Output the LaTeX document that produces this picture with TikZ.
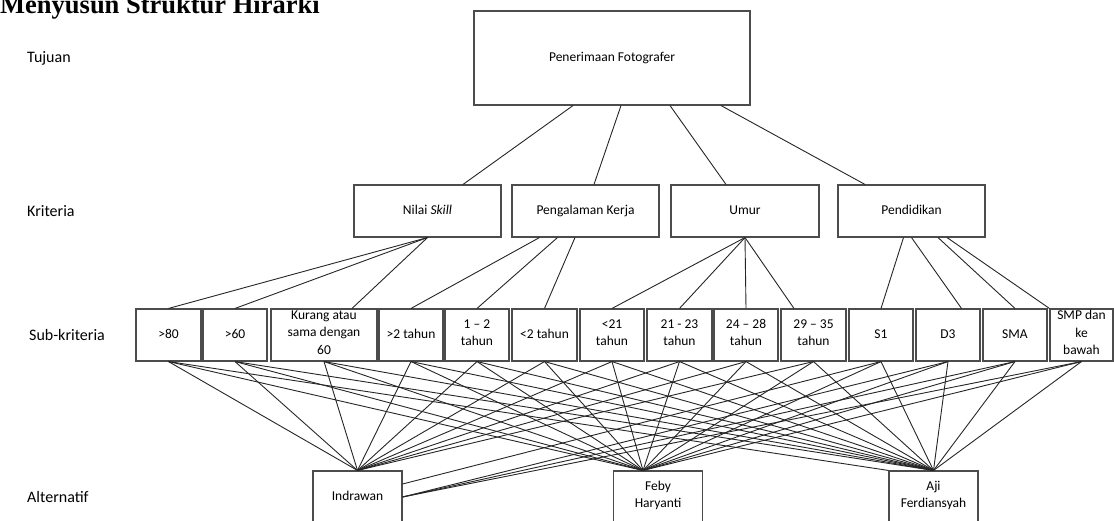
\documentclass[tikz,border=0pt]{standalone}
\usepackage{fontspec}
\setmainfont{Carlito}
\newfontfamily\judulfont{Liberation Serif}

\tikzset{
  kotak/.style={rectangle, draw=black!70, line width=1.1pt, align=center, inner sep=0pt,
    font=\fontsize{13.5pt}{17.5pt}\selectfont,
    execute at begin node=\strut, execute at end node=\strut},
  kriteria/.style={kotak, minimum width=147pt, minimum height=52pt},
  sub/.style={kotak, minimum width=64pt, minimum height=52pt},
  alternatif/.style={kotak, minimum width=89pt, minimum height=52pt},
  tingkat/.style={anchor=west, inner sep=0pt, font=\fontsize{16pt}{19pt}\selectfont},
  garis/.style={line width=0.9pt, black!85}
}

\begin{document}
\begin{tikzpicture}[x=1pt, y=-1pt]
\useasboundingbox (0,0) rectangle (1114,521);

\node (judul) at (0,14) [anchor=base west, inner sep=0pt,
  font=\judulfont\bfseries\fontsize{26.5pt}{30pt}\selectfont] {Menyusun Struktur Hirarki};

% label tingkat
\node (lTujuan) at (27,58) [tingkat] {Tujuan};
\node (lKriteria) at (27,211) [tingkat] {Kriteria};
\node (lSub) at (29,335) [tingkat] {Sub-kriteria};
\node (lAlternatif) at (27,497) [tingkat] {Alternatif};

% tujuan
\node (tujuan) at (612,58) [kotak, minimum width=276pt, minimum height=94pt] {Penerimaan Fotografer};

% kriteria
\node (skill) at (427.5,211) [kriteria] {Nilai \textit{Skill}};
\node (kerja) at (585.5,211) [kriteria] {Pengalaman Kerja};
\node (umur) at (745,211) [kriteria, minimum width=148pt] {Umur};
\node (didik) at (911.5,211) [kriteria] {Pendidikan};

\draw[garis] ([xshift=-39pt]tujuan.south) -- ([xshift=35.5pt]skill.north);
\draw[garis] ([xshift=9pt]tujuan.south) -- ([xshift=8.5pt]kerja.north);
\draw[garis] ([xshift=58pt]tujuan.south) -- ([xshift=-19pt]umur.north);
\draw[garis] ([xshift=109pt]tujuan.south) -- ([xshift=-46.5pt]didik.north);

% sub-kriteria
\node (s80) at (168.5,335) [sub, minimum width=65pt] {>80};
\node (s60) at (235,335) [sub] {>60};
\node (kurang) at (324,335) [sub, minimum width=106pt] {Kurang atau\\sama dengan\\60};
\node (p2) at (411,335) [sub] {>2 tahun};
\node (p12) at (477,335) [sub] {1 – 2\\tahun};
\node (pk2) at (544.5,335) [sub, minimum width=65pt] {<2 tahun};
\node (u21) at (612,335) [sub] {<21\\tahun};
\node (u2123) at (679.5,335) [sub, minimum width=65pt] {21 - 23\\tahun};
\node (u2428) at (746,335) [sub] {24 – 28\\tahun};
\node (u2935) at (813.5,335) [sub, minimum width=65pt] {29 – 35\\tahun};
\node (s1) at (881,335) [sub] {S1};
\node (d3) at (948,335) [sub] {D3};
\node (sma) at (1015,335) [sub] {SMA};
\node (smp) at (1081.5,335) [sub, minimum width=63pt] {SMP dan\\ke\\bawah};

\draw[garis] (skill.south) edge (s80.north) edge (s60.north) edge ([xshift=28pt]kurang.north);
\draw[garis] ([xshift=-46pt]kerja.south) -- (p2.north);
\draw[garis] ([xshift=-28pt]kerja.south) -- (p12.north);
\draw[garis] ([xshift=-10.5pt]kerja.south) -- (pk2.north);
\draw[garis] (umur.south) edge (u21.north) edge (u2123.north) edge (u2428.north)
  edge ([xshift=-19.5pt]u2935.north);
\draw[garis] ([xshift=-8pt]didik.south) -- (s1.north);
\draw[garis] (didik.south) -- ([xshift=13.5pt]d3.north);
\draw[garis] ([xshift=26.5pt]didik.south) -- (sma.north);
\draw[garis] ([xshift=35.5pt]didik.south) -- (smp.north west);

% alternatif
\node (indrawan) at (357.5,497) [alternatif] {Indrawan};
\node (feby) at (658,497) [alternatif] {Feby\\Haryanti};
\node (aji) at (933.5,497) [alternatif] {Aji\\Ferdiansyah};

\draw[garis] (indrawan.north) edge (s80.south) edge (s60.south) edge (kurang.south)
  edge (p2.south) edge (p12.south) edge (pk2.south) edge (u21.south)
  edge (u2123.south) edge (u2428.south) edge (u2935.south);
\draw[garis] ([yshift=13pt]indrawan.east) -- (s1.south);
\draw[garis] (indrawan.east) edge (d3.south) edge (sma.south) edge (smp.south);

\draw[garis] ([xshift=-15pt]feby.north) edge (s80.south) edge (s60.south) edge (kurang.south)
  edge (p2.south) edge (p12.south) edge (pk2.south) edge (u21.south)
  edge (u2123.south) edge (u2428.south) edge (u2935.south)
  edge (s1.south) edge (d3.south) edge (sma.south) edge (smp.south);

\draw[garis] (aji.north west) -- (s80.south);
\draw[garis] (aji.north) edge (s60.south) edge (kurang.south)
  edge (p2.south) edge (p12.south) edge (pk2.south) edge (u21.south)
  edge (u2123.south) edge (u2428.south) edge (u2935.south)
  edge (s1.south) edge (d3.south) edge (sma.south) edge (smp.south);
\end{tikzpicture}
\end{document}
